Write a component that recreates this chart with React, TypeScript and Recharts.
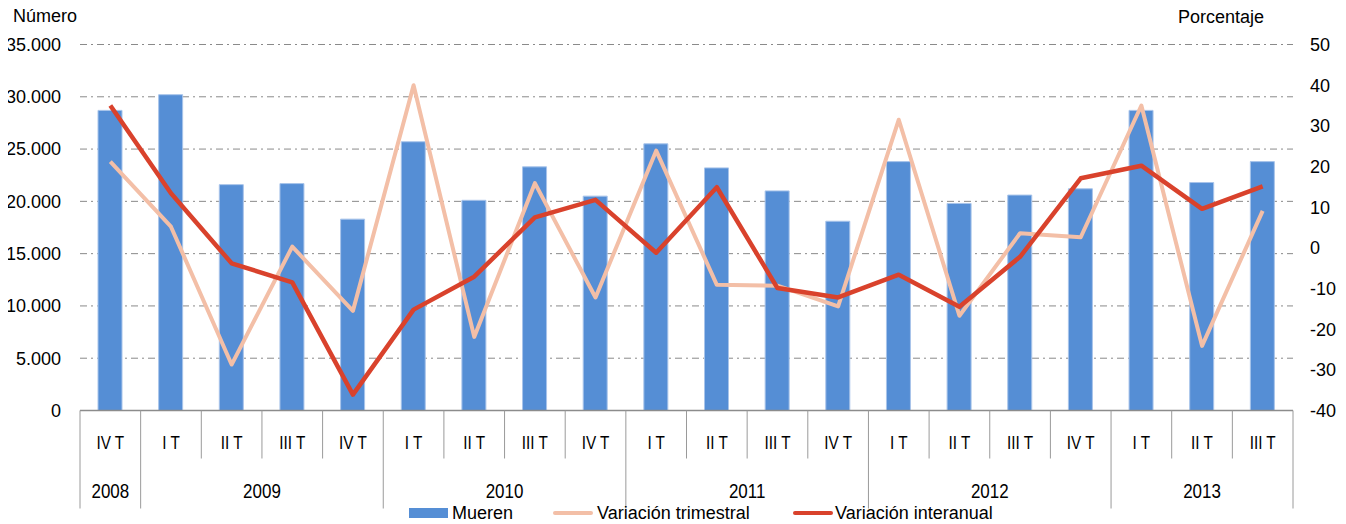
import React from "react"
import { ComposedChart, Bar, Line, XAxis, YAxis, CartesianGrid, Legend } from "recharts"

const quarters = [
  "IV T", "I T", "II T", "III T", "IV T", "I T", "II T", "III T", "IV T", "I T",
  "II T", "III T", "IV T", "I T", "II T", "III T", "IV T", "I T", "II T", "III T",
]
const years = [
  "2008", "2009", "2009", "2009", "2009", "2010", "2010", "2010", "2010", "2011",
  "2011", "2011", "2011", "2012", "2012", "2012", "2012", "2013", "2013", "2013",
]
const mueren = [
  28700, 30200, 21600, 21700, 18300, 25700, 20100, 23300, 20500, 25500,
  23200, 21000, 18100, 23800, 19800, 20600, 21200, 28700, 21800, 23800,
]
const trimestral = [
  21.2, 5.2, -28.7, 0.3, -15.5, 40.0, -21.9, 15.9, -12.2, 23.9,
  -9.1, -9.3, -14.4, 31.5, -16.7, 3.6, 2.6, 35.0, -24.1, 9.1,
]
const interanual = [
  35.0, 13.4, -3.8, -8.5, -36.1, -15.2, -7.1, 7.5, 11.8, -1.2,
  14.9, -9.9, -12.2, -6.6, -14.5, -2.2, 17.1, 20.2, 9.6, 15.1,
]
const leftTicks = [0, 5000, 10000, 15000, 20000, 25000, 30000, 35000]
const rightTicks = [-40, -30, -20, -10, 0, 10, 20, 30, 40, 50]

const data = quarters.map((q, i) => ({
  q,
  year: years[i],
  mueren: mueren[i],
  trimestral: trimestral[i],
  interanual: interanual[i],
}))

const W = 1330
const H = 516
const LEFT_W = 72
const RIGHT_W = 45
const PLOT_W = W - LEFT_W - RIGHT_W
const FONT = '"Liberation Sans", Arial, sans-serif'
const BLUE = "#558ed5"
const LIGHT = "#f3bfa7"
const RED = "#d9422c"
const AXIS = "#8c8c8c"

const fmt = (v: number) => String(v).replace(/\B(?=(\d{3})+(?!\d))/g, ".")

function QuarterTick(props: any) {
  const { x, y, payload } = props
  const i = payload.index
  const bw = PLOT_W / quarters.length
  const left = x - bw / 2
  const yearStart = i === 0 || years[i] !== years[i - 1]
  const last = i === quarters.length - 1
  let count = 0
  if (yearStart) {
    while (years[i + count] === years[i]) count++
  }
  return (
    <g>
      <line x1={left} x2={left} y1={y - 2} y2={y + (yearStart ? 96 : 46)} stroke="#9a9a9a" strokeWidth={1} />
      {last && <line x1={left + bw} x2={left + bw} y1={y - 2} y2={y + 96} stroke="#9a9a9a" strokeWidth={1} />}
      <g transform={`translate(${x},${y + 36}) scale(0.85,1)`}>
        <text textAnchor="middle" fontSize={18} fontFamily={FONT} fill="#000">
          {quarters[i]}
        </text>
      </g>
      {yearStart && (
        <g transform={`translate(${left + (count * bw) / 2},${y + 85}) scale(0.87,1)`}>
          <text textAnchor="middle" fontSize={19.5} fontFamily={FONT} fill="#000">
            {years[i]}
          </text>
        </g>
      )}
    </g>
  )
}

function LegendBox() {
  const txt: React.CSSProperties = { position: "absolute", top: 0, fontFamily: FONT, fontSize: 18, lineHeight: "22px", color: "#000", whiteSpace: "nowrap" }
  return (
    <div style={{ position: "relative", width: W, height: 22 }}>
      <div style={{ position: "absolute", left: 401, top: 6, width: 39, height: 10, background: BLUE }} />
      <div style={{ ...txt, left: 444 }}>Mueren</div>
      <div style={{ position: "absolute", left: 545, top: 9, width: 40, height: 4, background: LIGHT, borderRadius: 2 }} />
      <div style={{ ...txt, left: 589 }}>Variación trimestral</div>
      <div style={{ position: "absolute", left: 785, top: 9, width: 40, height: 4, background: RED, borderRadius: 2 }} />
      <div style={{ ...txt, left: 827 }}>Variación interanual</div>
    </div>
  )
}

export default function App() {
  return (
    <div style={{ fontFamily: FONT }}>
      <ComposedChart width={W} height={H} data={data} margin={{ top: 36.5, right: 0, bottom: 0, left: 0 }}>
        <CartesianGrid yAxisId="left" vertical={false} stroke="#8a8a8a" strokeDasharray="7 4 2 4" />
        <XAxis
          dataKey="q"
          height={113.5}
          interval={0}
          tickLine={false}
          tickSize={0}
          axisLine={{ stroke: AXIS, strokeWidth: 1.5 }}
          tick={<QuarterTick />}
        />
        <YAxis
          yAxisId="left"
          width={LEFT_W}
          domain={[0, 35000]}
          ticks={leftTicks}
          tickFormatter={fmt}
          axisLine={false}
          tickLine={false}
          tickSize={0}
          tickMargin={19}
          tick={{ fill: "#000", fontSize: 18, fontFamily: FONT }}
          label={{
            content: () => (
              <text x={5} y={14} fontSize={18} fontFamily={FONT} fill="#000">
                Número
              </text>
            ),
          }}
        />
        <YAxis
          yAxisId="right"
          orientation="right"
          width={RIGHT_W}
          domain={[-40, 50]}
          ticks={rightTicks}
          axisLine={false}
          tickLine={false}
          tickSize={0}
          tickMargin={17}
          tick={{ fill: "#000", fontSize: 18, fontFamily: FONT }}
          label={{
            content: () => (
              <text x={1170} y={15} fontSize={18} fontFamily={FONT} fill="#000">
                Porcentaje
              </text>
            ),
          }}
        />
        <Legend
          verticalAlign="middle"
          align="center"
          wrapperStyle={{ top: 494, left: 0, width: W, height: 22 }}
          content={() => <LegendBox />}
        />
        <Bar yAxisId="left" dataKey="mueren" name="Mueren" fill={BLUE} stroke="#a8c4ea" strokeWidth={1} barSize={24} isAnimationActive={false} />
        <Line yAxisId="right" dataKey="trimestral" name="Variación trimestral" type="linear" stroke={LIGHT} strokeWidth={4} dot={false} strokeLinejoin="round" isAnimationActive={false} />
        <Line yAxisId="right" dataKey="interanual" name="Variación interanual" type="linear" stroke={RED} strokeWidth={4.5} dot={false} strokeLinejoin="round" isAnimationActive={false} />
      </ComposedChart>
    </div>
  )
}
